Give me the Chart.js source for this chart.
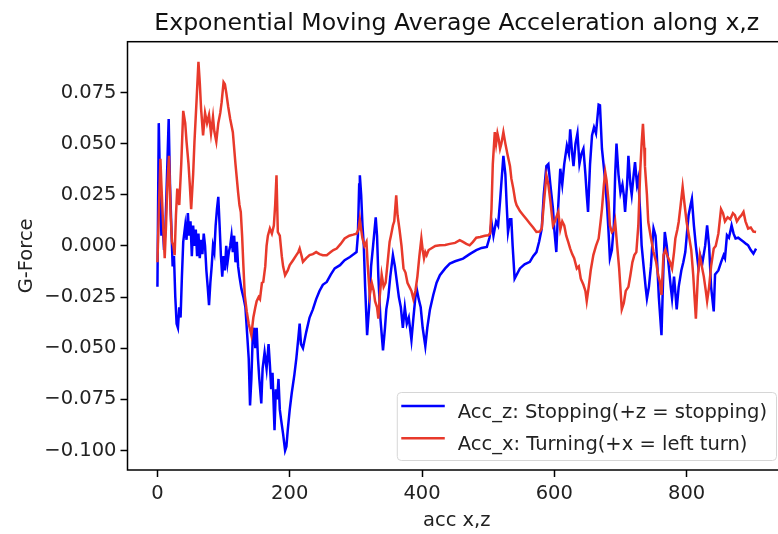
<!DOCTYPE html>
<html>
<head>
<meta charset="utf-8">
<script src="https://cdn.jsdelivr.net/npm/chart.js@4.4.1/dist/chart.umd.min.js"></script>
<style>
  html, body { margin: 0; padding: 0; background: #fff; overflow: hidden; }
  #wrap { width: 778px; height: 534px; overflow: hidden; }
  canvas { display: block; }
</style>
</head>
<body>
<div id="wrap"><canvas id="emaChart" width="800" height="534"></canvas></div>
<script>
// Acc_z (stopping) - sample index and value
const zIdx = [0,2,4,6,8,10,12,15,17,19,21,23,25,27,29,31,33,35,37,39,42,44,46,48,50,52,54,56,58,60,62,64,66,68,70,72,74,76,78,80,82,84,86,88,90,92,94,96,98,100,102,104,106,108,110,112,114,116,118,120,122,124,127,130,133,136,138,140,142,144,146,148,150,152,154,157,159,162,165,168,170,172,174,177,179,181,183,185,187,190,193,195,197,200,203,207,210,213,215,217,220,225,230,235,240,245,250,256,262,268,276,283,291,297,301,303,305,306,308,310,312,314,317,320,323,326,330,332,334,337,341,344,346,349,352,356,359,362,365,368,371,374,377,380,384,387,390,392,395,398,401,405,408,412,417,422,427,435,442,450,462,472,482,490,498,502,505,508,512,515,518,520,523,526,528,530,533,535,537,540,548,555,563,568,573,577,581,584,588,591,594,598,600,603,606,609,612,615,619,622,624,627,629,632,635,638,641,644,647,649,651,654,657,660,663,667,669,672,675,677,680,682,684,687,690,692,694,697,700,703,705,707,710,712,715,717,720,722,725,727,730,732,735,738,740,743,746,748,750,753,755,758,762,765,767,770,773,776,778,781,785,788,792,795,798,801,803,806,808,811,814,818,821,824,828,831,834,837,841,843,848,852,856,858,861,864,868,871,874,878,882,886,890,893,897,901,905];
const zVal = [-0.020,0.060,0.030,0.005,0.010,-0.002,0.008,0.040,0.062,0.030,0.010,-0.010,-0.005,-0.025,-0.038,-0.040,-0.030,-0.035,-0.015,0.002,0.010,0.003,0.016,0.005,0.012,-0.005,0.010,0.000,0.008,-0.005,0.006,-0.006,0.003,-0.004,0.006,0.000,-0.012,-0.020,-0.029,-0.018,-0.010,0.000,-0.003,0.010,0.018,0.024,0.010,-0.005,-0.015,-0.005,-0.012,0.000,-0.008,-0.003,0.000,0.005,-0.003,0.005,-0.008,0.002,-0.010,-0.015,-0.021,-0.025,-0.030,-0.045,-0.055,-0.078,-0.065,-0.045,-0.040,-0.050,-0.040,-0.055,-0.065,-0.077,-0.060,-0.052,-0.060,-0.048,-0.058,-0.070,-0.062,-0.090,-0.070,-0.075,-0.065,-0.080,-0.085,-0.092,-0.100,-0.098,-0.090,-0.080,-0.072,-0.063,-0.055,-0.045,-0.038,-0.048,-0.050,-0.042,-0.035,-0.031,-0.026,-0.022,-0.019,-0.0176,-0.014,-0.011,-0.0094,-0.007,-0.0054,-0.004,-0.003,0.005,0.030,0.0345,0.025,0.010,0.000,-0.020,-0.0436,-0.030,-0.010,0.000,0.014,0.005,-0.015,-0.035,-0.051,-0.040,-0.031,-0.025,-0.015,-0.0045,-0.010,-0.0176,-0.025,-0.030,-0.040,-0.030,-0.038,-0.035,-0.046,-0.035,-0.025,-0.021,-0.026,-0.030,-0.040,-0.049,-0.040,-0.031,-0.024,-0.018,-0.0143,-0.011,-0.0086,-0.0075,-0.0062,-0.004,-0.0021,-0.001,-0.0005,0.004,0.0117,0.005,0.012,0.010,0.022,0.031,0.044,0.035,0.020,0.0068,0.013,0.013,0.000,-0.016,-0.011,-0.009,-0.0078,-0.005,-0.003,0.002,0.0085,0.025,0.039,0.040,0.030,0.018,0.008,-0.003,0.020,0.0377,0.030,0.040,0.049,0.045,0.057,0.045,0.039,0.050,0.055,0.040,0.045,0.0475,0.035,0.025,0.0166,0.040,0.054,0.058,0.055,0.069,0.0687,0.0475,0.038,0.031,0.018,0.0068,-0.006,-0.002,0.010,0.035,0.050,0.035,0.026,0.030,0.025,0.0166,0.030,0.044,0.030,0.025,0.035,0.041,0.030,0.033,0.015,0.0003,-0.010,-0.020,-0.0257,-0.020,-0.010,0.000,0.0085,0.005,-0.005,-0.025,-0.0436,-0.010,0.0068,0.000,-0.010,-0.020,-0.0257,-0.015,-0.031,-0.020,-0.012,-0.008,-0.003,0.008,0.015,0.020,0.023,0.010,0.000,-0.011,-0.005,-0.008,0.000,0.010,0.000,-0.020,-0.032,-0.014,-0.012,-0.008,-0.0045,-0.006,0.0052,0.004,0.010,0.006,0.0036,0.004,0.003,0.002,0.001,0.0003,-0.002,-0.0038,-0.0013];

// Acc_x (turning) - sample index and value
const xIdx = [0,2,4.5,6,8,11,13,15,17.5,20,22,24,26,28,30,33,36,39,42,44,47,49,51,54,56,59,62,64,66,69,72,75,78,81,84,86,89,92,95,97,100,102,104,107,110,114,118,122,124,126,128,130,132,135,138,142,145,148,150,153,155,158,160,163,165,167,170,173,176,178,180,182,185,188,190,193,197,200,205,210,213,215,218,220,225,230,235,240,245,250,256,262,266,271,277,283,290,296,301,304,306,308,310,313,316,318,321,324,327,329,332,334,336,339,342,345,348,351,353,356,358,361,363,366,369,372,375,378,381,384,387,390,393,396,399,401,403,405,407,410,415,420,427,435,442,450,457,462,467,472,477,482,488,495,500,503,505,507,510,512,514,516,518,520,523,526,529,533,535,538,541,543,548,553,558,563,568,573,578,581,584,588,591,594,598,601,603,606,609,612,615,618,621,624,627,630,634,637,640,644,647,649,652,655,659,663,667,670,672,675,677,679,682,684,687,690,692,695,698,702,705,708,712,715,718,721,724,727,730,732,734,736,737,740,742,746,750,754,757,760,762,765,768,771,775,778,781,783,786,788,791,794,797,800,804,807,810,812,814,817,820,823,826,829,831,834,837,841,844,848,852,855,858,862,866,870,873,876,880,883,886,889,893,897,901,905];
const xVal = [-0.008,0.015,0.0426,0.030,0.015,-0.006,0.010,0.030,0.044,0.015,0.002,0.000,-0.0045,0.015,0.028,0.020,0.040,0.066,0.060,0.051,0.040,0.0296,0.018,0.035,0.051,0.070,0.090,0.080,0.067,0.054,0.065,0.060,0.064,0.055,0.063,0.056,0.051,0.060,0.065,0.070,0.080,0.079,0.075,0.068,0.062,0.0556,0.040,0.026,0.020,0.0166,0.005,-0.010,-0.024,-0.032,-0.038,-0.0436,-0.035,-0.030,-0.027,-0.025,-0.026,-0.018,-0.0176,-0.010,0.000,0.005,0.0085,0.006,0.010,0.020,0.0345,0.0068,0.005,-0.005,-0.010,-0.0143,-0.012,-0.0094,-0.007,-0.0045,-0.003,-0.0013,-0.005,-0.0078,-0.006,-0.0045,-0.004,-0.003,-0.004,-0.0045,-0.0045,-0.003,-0.002,-0.0013,0.001,0.0036,0.005,0.0055,0.006,0.008,0.013,0.008,0.0036,0.000,0.002,-0.010,-0.024,-0.018,-0.022,-0.027,-0.030,-0.0355,-0.025,-0.014,-0.020,-0.018,-0.008,0.002,0.005,0.010,0.012,0.0247,0.015,0.008,0.000,-0.011,-0.013,-0.018,-0.020,-0.022,-0.026,-0.022,-0.015,-0.005,0.0036,-0.002,-0.006,-0.003,-0.0045,-0.002,-0.001,0.000,0.0003,0.0005,0.001,0.0015,0.0028,0.002,0.001,0.0003,0.002,0.004,0.0044,0.005,0.0052,0.006,0.018,0.040,0.0556,0.050,0.055,0.052,0.0475,0.050,0.0556,0.050,0.045,0.039,0.033,0.028,0.022,0.0199,0.017,0.015,0.013,0.011,0.009,0.0068,0.007,0.0085,0.020,0.0345,0.030,0.022,0.010,0.012,0.014,0.0166,0.008,0.012,0.010,0.005,0.002,-0.0013,-0.004,-0.006,-0.011,-0.010,-0.016,-0.019,-0.022,-0.027,-0.020,-0.012,-0.0045,0.000,0.0036,0.012,0.018,0.030,0.036,0.032,0.0215,0.010,0.0068,0.008,0.0117,0.000,-0.011,-0.031,-0.028,-0.022,-0.020,-0.0143,-0.008,-0.0045,-0.003,0.010,0.0377,0.050,0.0597,0.048,0.039,0.025,0.0117,0.004,-0.003,-0.008,-0.0143,-0.018,-0.024,-0.0045,-0.002,-0.005,-0.008,-0.011,-0.003,0.0036,0.008,0.0117,0.020,0.0288,0.020,0.0117,0.004,-0.002,-0.0143,-0.025,-0.0355,-0.015,-0.0045,-0.010,-0.015,-0.022,-0.027,-0.020,-0.010,-0.0013,0.000,0.006,0.018,0.016,0.012,0.014,0.013,0.016,0.015,0.012,0.014,0.015,0.0166,0.012,0.0085,0.009,0.007,0.0068];

const xTicks = [0, 200, 400, 600, 800];
const yTicks = [-0.1, -0.075, -0.05, -0.025, 0, 0.025, 0.05, 0.075];
const seriesLabels = ['Acc_z: Stopping(+z = stopping)', 'Acc_x: Turning(+x = left turn)'];
const chartTitle = 'Exponential Moving Average Acceleration along x,z';

const FONT = '"DejaVu Sans", "Liberation Sans", sans-serif';

// matplotlib style frame around the axes (spines sit above the lines)
const framePlugin = {
  id: 'frame',
  afterDatasetsDraw(chart) {
    const { ctx, chartArea: a } = chart;
    ctx.save();
    ctx.strokeStyle = '#000';
    ctx.lineWidth = 1.5;
    ctx.strokeRect(a.left, a.top, a.right - a.left, a.bottom - a.top);
    ctx.restore();
  }
};

// title centred over the axes, not the whole canvas
const axesTitle = {
  id: 'axesTitle',
  afterDraw(chart) {
    const { ctx, chartArea: a } = chart;
    ctx.save();
    ctx.font = '23.6px ' + FONT;
    ctx.fillStyle = '#111';
    ctx.textAlign = 'center';
    ctx.textBaseline = 'alphabetic';
    ctx.fillText(chartTitle, (a.left + a.right) / 2, 30);
    ctx.restore();
  }
};

// legend box in the lower right corner of the axes
const legendPlugin = {
  id: 'cornerLegend',
  afterDraw(chart) {
    const { ctx, chartArea: a } = chart;
    const sets = chart.data.datasets;
    ctx.save();
    ctx.font = '19.5px ' + FONT;
    const tw = Math.max(...sets.map(d => ctx.measureText(d.label).width));
    const w = tw + 70, h = 68;
    const right = a.right - 10, bottom = a.bottom - 10;
    const left = right - w, top = bottom - h;
    ctx.beginPath();
    ctx.roundRect(left + 0.5, top + 0.5, w, h, 4);
    ctx.fillStyle = 'rgba(255,255,255,0.8)';
    ctx.fill();
    ctx.strokeStyle = '#d6d6d6';
    ctx.lineWidth = 1;
    ctx.stroke();
    sets.forEach((d, i) => {
      const ly = top + 14 + i * 32.3;
      ctx.beginPath();
      ctx.moveTo(left + 4.5, ly);
      ctx.lineTo(left + 48, ly);
      ctx.strokeStyle = d.borderColor;
      ctx.lineWidth = 2.5;
      ctx.stroke();
      ctx.fillStyle = '#222';
      ctx.textBaseline = 'alphabetic';
      ctx.fillText(d.label, left + 61, ly + 11.5);
    });
    ctx.restore();
  }
};

const ctx = document.getElementById('emaChart').getContext('2d');
new Chart(ctx, {
  type: 'line',
  data: {
    datasets: [
      {
        label: seriesLabels[0],
        data: zIdx.map((x, i) => ({ x: x, y: zVal[i] })),
        borderColor: '#0000ff',
        order: 2
      },
      {
        label: seriesLabels[1],
        data: xIdx.map((x, i) => ({ x: x, y: xVal[i] })),
        borderColor: '#e8392b',
        order: 1
      }
    ]
  },
  options: {
    responsive: false,
    animation: false,
    events: [],
    layout: { padding: { left: 0, right: 14, top: 41.7, bottom: 0 } },
    elements: {
      point: { radius: 0 },
      line: { borderWidth: 2.5, tension: 0, fill: false }
    },
    plugins: {
      legend: { display: false },
      tooltip: { enabled: false },
      title: { display: false }
    },
    scales: {
      x: {
        type: 'linear',
        min: -45.25,
        max: 950.25,
        afterBuildTicks: s => { s.ticks = xTicks.map(v => ({ value: v })); },
        afterFit: s => { s.height = 64; },
        grid: { drawOnChartArea: false, drawTicks: true, tickLength: 7, tickWidth: 1.5, tickColor: '#000' },
        border: { display: false },
        ticks: {
          color: '#222',
          font: { family: FONT, size: 19.5 },
          padding: 5,
          maxRotation: 0,
          callback: v => String(v)
        },
        title: {
          display: true,
          text: 'acc x,z',
          color: '#222',
          font: { family: FONT, size: 19.5 },
          padding: { top: 0, bottom: 1 }
        }
      },
      y: {
        type: 'linear',
        min: -0.1095,
        max: 0.0998,
        afterBuildTicks: s => { s.ticks = yTicks.map(v => ({ value: v })); },
        afterFit: s => { s.width = 127.5; },
        grid: { drawOnChartArea: false, drawTicks: true, tickLength: 7, tickWidth: 1.5, tickColor: '#000' },
        border: { display: false },
        ticks: {
          color: '#222',
          font: { family: FONT, size: 19.5 },
          padding: 4,
          callback: v => v.toFixed(3).replace('-', '\u2212')
        },
        title: {
          display: true,
          text: 'G-Force',
          color: '#222',
          font: { family: FONT, size: 19.5 },
          padding: { top: 15, bottom: 0 }
        }
      }
    }
  },
  plugins: [framePlugin, axesTitle, legendPlugin]
});
</script>
</body>
</html>
